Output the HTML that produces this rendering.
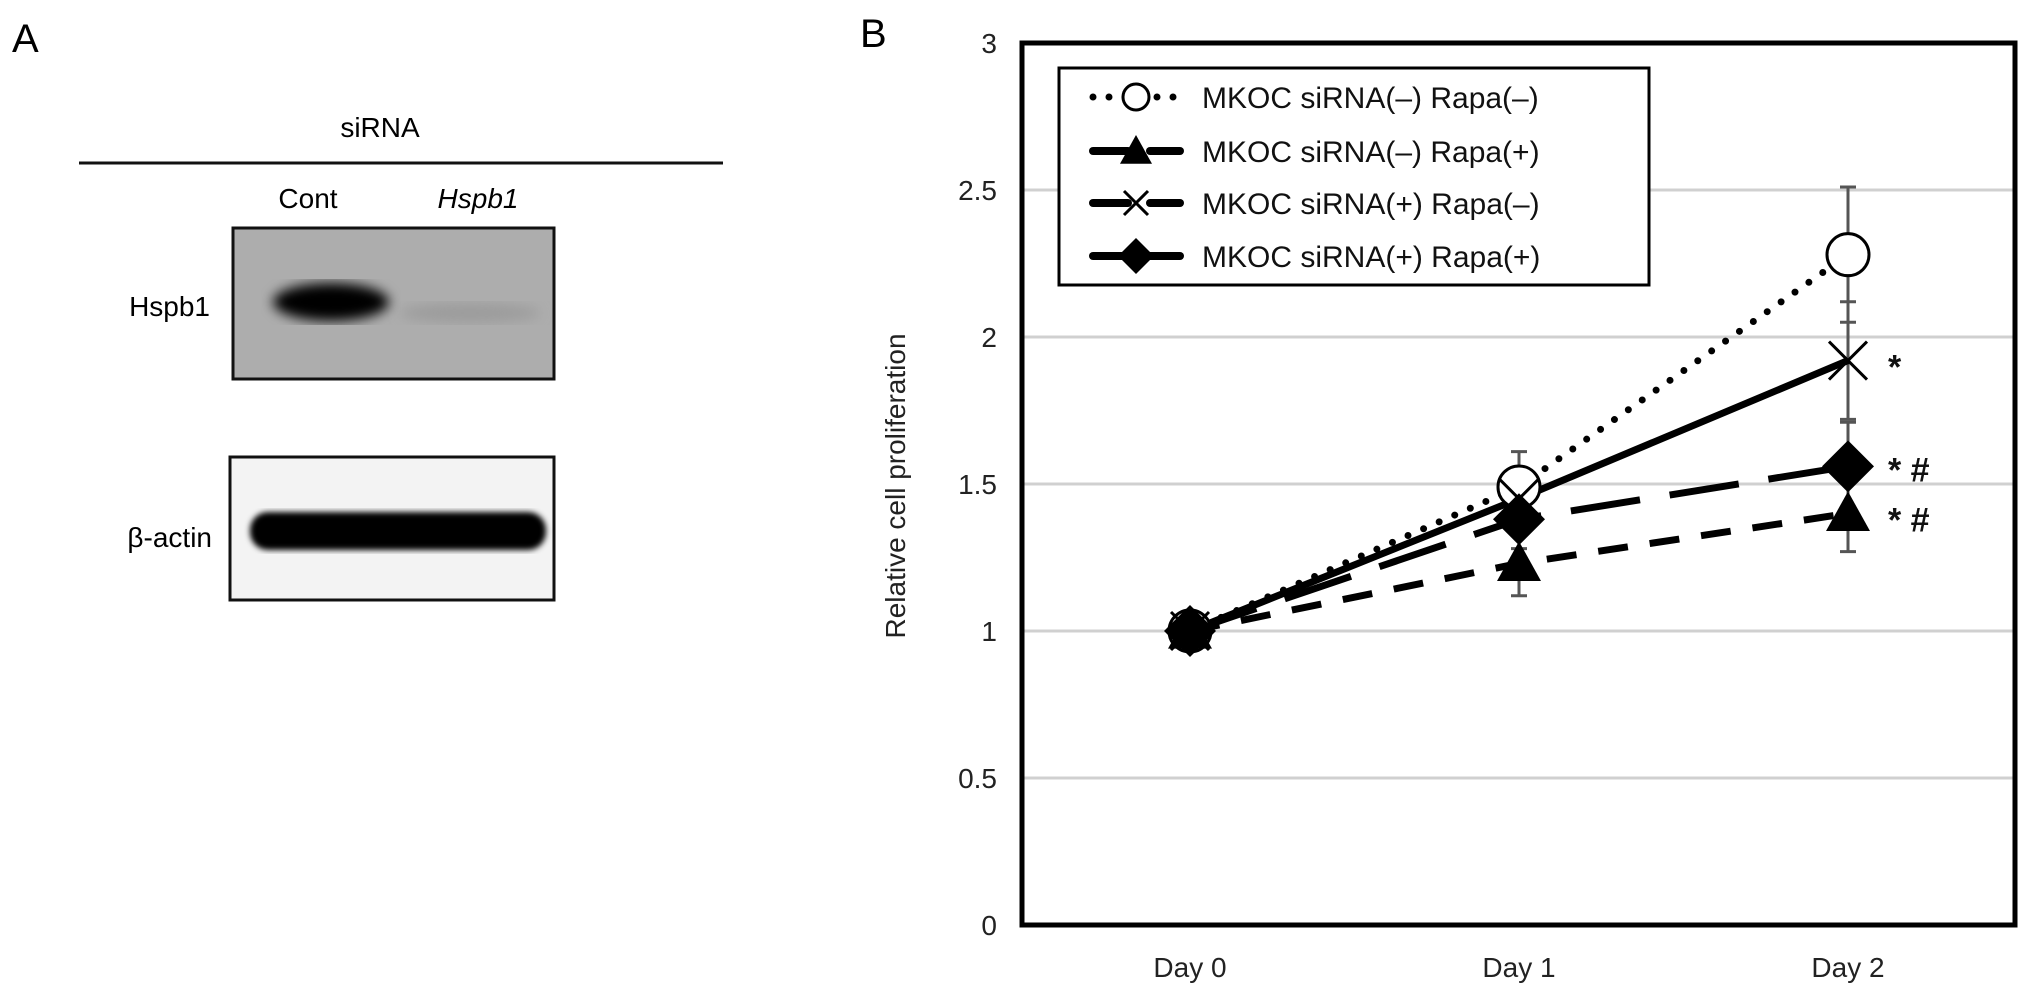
<!DOCTYPE html>
<html><head><meta charset="utf-8"><style>
html,body{margin:0;padding:0;background:#fff;}
svg{display:block;font-family:"Liberation Sans",sans-serif;}
</style></head><body>
<svg id="fig" width="2032" height="997" viewBox="0 0 2032 997">
<defs>
<filter id="blur6"><feGaussianBlur stdDeviation="6"/></filter>
<filter id="blur3"><feGaussianBlur stdDeviation="3"/></filter>
</defs>
<g>
<text x="12" y="52" font-size="40">A</text>
<text x="380" y="137" font-size="28" text-anchor="middle">siRNA</text>
<line x1="79" y1="163" x2="723" y2="163" stroke="#111" stroke-width="3"/>
<text x="308" y="208" font-size="28" text-anchor="middle">Cont</text>
<text x="478" y="208" font-size="28" font-style="italic" text-anchor="middle">Hspb1</text>
<text x="210" y="316" font-size="28" text-anchor="end">Hspb1</text>
<rect x="233" y="228" width="321" height="151" fill="#adadad" stroke="#111" stroke-width="3"/>
<ellipse cx="331" cy="302" rx="58" ry="19" fill="#050505" filter="url(#blur6)"/>
<ellipse cx="470" cy="313" rx="70" ry="10" fill="#9c9c9c" filter="url(#blur6)"/>
<text x="212" y="547" font-size="28" text-anchor="end">β-actin</text>
<rect x="230" y="457" width="324" height="143" fill="#f3f3f3" stroke="#111" stroke-width="3"/>
<rect x="250" y="512" width="296" height="38" rx="18" fill="#050505" filter="url(#blur3)"/>
</g>
<text x="860" y="47" font-size="40">B</text>
<g id="chart"></g>
</svg>
<script>
const categories = ["Day 0", "Day 1", "Day 2"];
const yTicks = [0, 0.5, 1, 1.5, 2, 2.5, 3];
const yTickLabels = ["0", "0.5", "1", "1.5", "2", "2.5", "3"];
const seriesNames = ["MKOC siRNA(\u2013) Rapa(\u2013)", "MKOC siRNA(\u2013) Rapa(+)", "MKOC siRNA(+) Rapa(\u2013)", "MKOC siRNA(+) Rapa(+)"];
const circleVals = [1, 1.49, 2.28];
const triangleVals = [1, 1.23, 1.40];
const crossVals = [1, 1.45, 1.92];
const diamondVals = [1, 1.38, 1.56];
const circleErr = [0, 0.12, 0.23];
const triangleErr = [0, 0.11, 0.13];
const crossErr = [0, 0.1, 0.2];
const diamondErr = [0, 0.1, 0.15];
const annotations = ["*", "* #", "* #"];
const annotationVals = [1.92, 1.57, 1.40];

const NS = "http://www.w3.org/2000/svg";
const g = document.getElementById("chart");
const L = 1022, R = 2015, T = 43, B = 925;
function y(v){ return B - (v/3)*(B-T); }
function x(i){ return 1190 + i*329; }
function el(tag, attrs, parent){ const e=document.createElementNS(NS,tag); for(const k in attrs) e.setAttribute(k,attrs[k]); (parent||g).appendChild(e); return e; }

yTicks.forEach((t,i)=>{
  if(t>0 && t<3){
    const gl = el("line",{x1:L,x2:R,y1:y(t),y2:y(t),stroke:"#d0d0d0","stroke-width":3});
    
    
  }
  const tl = el("text",{x:997,y:y(t)+10,"font-size":28,"text-anchor":"end",fill:"#222"});
  tl.textContent = yTickLabels[i];
  
  
});
categories.forEach((c,i)=>{
  const t = el("text",{x:x(i),y:977,"font-size":28,"text-anchor":"middle",fill:"#222"});
  t.textContent = c;
  
  
});
const yt = el("text",{x:0,y:0,"font-size":28,"text-anchor":"middle",fill:"#222",transform:"translate(905,486) rotate(-90)"});
yt.textContent = "Relative cell proliferation";



function ptsStr(vals){ return vals.map((v,i)=>x(i)+","+y(v)).join(" "); }
function errBars(vals, errs, name){
  vals.forEach((v,i)=>{
    if(errs[i]<=0) return;
    const e = el("path",{d:`M${x(i)},${y(v+errs[i])}V${y(v-errs[i])}M${x(i)-8},${y(v+errs[i])}h16M${x(i)-8},${y(v-errs[i])}h16`,stroke:"#555","stroke-width":3,fill:"none"});
    
    
  });
}
errBars(circleVals, circleErr, 'error-bar-circle');
errBars(crossVals, crossErr, 'error-bar-cross');
errBars(diamondVals, diamondErr, 'error-bar-diamond');
errBars(triangleVals, triangleErr, 'error-bar-triangle');

const l2 = el("polyline",{points:ptsStr(triangleVals),fill:"none",stroke:"#000","stroke-width":7,"stroke-dasharray":"30 22"});


const l4 = el("polyline",{points:ptsStr(diamondVals),fill:"none",stroke:"#000","stroke-width":7,"stroke-dasharray":"70 30"});


const l1 = el("polyline",{points:ptsStr(circleVals),fill:"none",stroke:"#000","stroke-width":7,"stroke-linecap":"round","stroke-dasharray":"0 17"});


const l3 = el("polyline",{points:ptsStr(crossVals),fill:"none",stroke:"#000","stroke-width":7});



function marker(type, cx, cy, s){
  let m;
  if(type==="circle") m = el("circle",{cx:cx,cy:cy,r:s,fill:"#fff",stroke:"#000","stroke-width":3});
  else if(type==="triangle") m = el("polygon",{points:`${cx},${cy-s} ${cx+s},${cy+s*0.8} ${cx-s},${cy+s*0.8}`,fill:"#000"});
  else if(type==="cross") m = el("path",{d:`M${cx-s},${cy-s}L${cx+s},${cy+s}M${cx-s},${cy+s}L${cx+s},${cy-s}`,stroke:"#000","stroke-width":3});
  else m = el("polygon",{points:`${cx},${cy-s} ${cx+s},${cy} ${cx},${cy+s} ${cx-s},${cy}`,fill:"#000"});
  return m;
}
circleVals.forEach((v,i)=>{ const m=marker("circle",x(i),y(v),21);   });
crossVals.forEach((v,i)=>{ const m=marker("cross",x(i),y(v),19);   });
triangleVals.forEach((v,i)=>{ const m=marker("triangle",x(i),y(v),22);   });
diamondVals.forEach((v,i)=>{ const m=marker("diamond",x(i),y(v),26);   });

annotations.forEach((a,i)=>{
  const t = el("text",{x:1888,y:y(annotationVals[i])+18,"font-size":34,"font-weight":"bold",fill:"#111"});
  t.textContent = a;
  
  
});

const fr = el("rect",{x:L,y:T,width:R-L,height:B-T,fill:"none",stroke:"#000","stroke-width":5});



const lg = el("g",{});


el("rect",{x:1059,y:68,width:590,height:217,fill:"#fff",stroke:"#000","stroke-width":3},lg);
const rowsY = [97,151,203,256];
const types = ["circle","triangle","cross","diamond"];
const sizes = [13,16,12,18];
types.forEach((t,i)=>{
  const ry = rowsY[i];
  const entry = el("g",{},lg);
  
  
  if(t==="circle"){
    el("line",{x1:1093,x2:1180,y1:ry,y2:ry,stroke:"#000","stroke-width":7,"stroke-linecap":"round","stroke-dasharray":"0 16"},entry);
  } else {
    el("line",{x1:1093,x2:1128,y1:ry,y2:ry,stroke:"#000","stroke-width":8,"stroke-linecap":"round"},entry);
    el("line",{x1:1150,x2:1180,y1:ry,y2:ry,stroke:"#000","stroke-width":8,"stroke-linecap":"round"},entry);
  }
  marker(t,1136,ry,sizes[i]);
  entry.appendChild(g.lastChild);
  const tx = el("text",{x:1202,y:ry+11,"font-size":30,fill:"#111"},entry);
  tx.textContent = seriesNames[i];
});
</script>
</body></html>
